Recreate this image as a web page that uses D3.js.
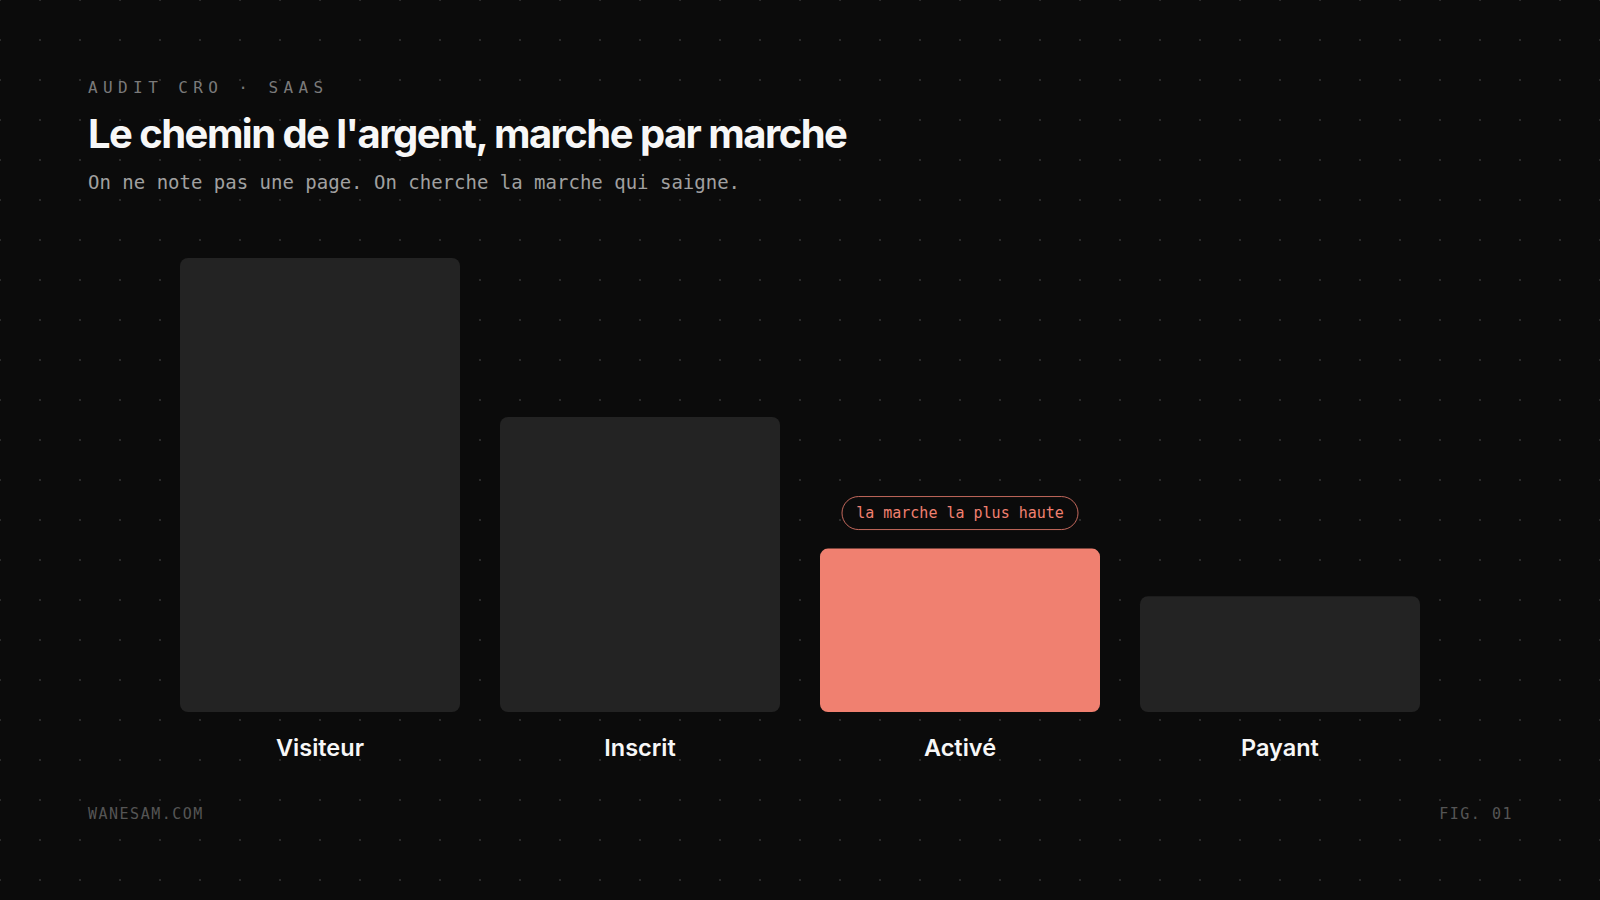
<!DOCTYPE html>
<html>
<head>
<meta charset="utf-8">
<script src="https://d3js.org/d3.v7.min.js"></script>
<style>
  html, body { margin: 0; padding: 0; background: #0b0b0b; }
  svg { display: block; }
</style>
</head>
<body>
<svg id="vis"></svg>

<script>
  var steps = ['Visiteur', 'Inscrit', 'Activé', 'Payant'];
  var values = [100, 65, 36, 25.5];   // hauteur relative de chaque marche
  var highlight = 'Activé';
  var badgeText = 'la marche la plus haute';

  var width = 1600;
  var height = 900;
  var mono = "'DejaVu Sans Mono', 'Liberation Mono', monospace";
  var sans = "Inter, 'Noto Sans', sans-serif";

  var svg = d3.select('#vis')
      .attr('width', width)
      .attr('height', height);

  svg.append('rect')
      .attr('width', width)
      .attr('height', height)
      .attr('fill', '#0b0b0b');

  // dot grid
  var gx = d3.range(0, width + 1, 40);
  var gy = d3.range(0, height + 1, 40);
  var dots = [];
  gy.forEach(function(y) { gx.forEach(function(x) { dots.push({x: x, y: y}); }); });
  svg.append('g').selectAll('circle')
      .data(dots)
      .enter().append('circle')
      .attr('cx', function(d) { return d.x; })
      .attr('cy', function(d) { return d.y; })
      .attr('r', 1.1)
      .attr('fill', '#333');

  // header
  svg.append('text')
      .attr('x', 88).attr('y', 93)
      .attr('fill', '#7a7a7a')
      .style('font-family', mono)
      .style('font-size', '16px')
      .style('letter-spacing', '5.4px')
      .text('AUDIT CRO · SAAS');

  svg.append('text')
      .attr('x', 88).attr('y', 148)
      .attr('fill', '#f7f7f7')
      .style('font-family', sans)
      .style('font-weight', 700)
      .style('font-size', '40px')
      .style('letter-spacing', '-1.55px')
      .text("Le chemin de l'argent, marche par marche");

  svg.append('text')
      .attr('x', 88).attr('y', 189)
      .attr('fill', '#a0a0a0')
      .style('font-family', mono)
      .style('font-size', '19px')
      .text('On ne note pas une page. On cherche la marche qui saigne.');

  // scales
  var x = d3.scaleBand()
      .domain(steps)
      .range([180, 1420])
      .paddingInner(0.125)
      .paddingOuter(0);

  var y = d3.scaleLinear()
      .domain([0, 100])
      .range([712, 258]);

  var data = steps.map(function(s, i) { return {step: s, value: values[i]}; });

  svg.append('g').selectAll('rect')
      .data(data)
      .enter().append('rect')
      .attr('x', function(d) { return x(d.step); })
      .attr('y', function(d) { return y(d.value); })
      .attr('width', x.bandwidth())
      .attr('height', function(d) { return y(0) - y(d.value); })
      .attr('rx', 8)
      .attr('fill', function(d) { return d.step === highlight ? '#f08070' : '#232323'; });

  // step labels
  svg.append('g').selectAll('text')
      .data(data)
      .enter().append('text')
      .attr('x', function(d) { return x(d.step) + x.bandwidth() / 2; })
      .attr('y', 756)
      .attr('text-anchor', 'middle')
      .attr('fill', '#f7f7f7')
      .style('font-family', sans)
      .style('font-weight', 600)
      .style('font-size', '23.5px')
      .text(function(d) { return d.step; });

  // badge above highlighted step
  var hi = data.filter(function(d) { return d.step === highlight; })[0];
  var cx = x(hi.step) + x.bandwidth() / 2;
  var badgeBottom = y(hi.value) - 19;
  var bw = 236, bh = 33;
  svg.append('rect')
      .attr('x', cx - bw / 2)
      .attr('y', badgeBottom - bh)
      .attr('width', bw)
      .attr('height', bh)
      .attr('rx', bh / 2)
      .attr('fill', '#0b0b0b')
      .attr('stroke', '#f08070')
      .attr('stroke-opacity', 0.8)
      .attr('stroke-width', 1);
  svg.append('text')
      .attr('x', cx)
      .attr('y', badgeBottom - 11.5)
      .attr('text-anchor', 'middle')
      .attr('fill', '#f08070')
      .style('font-family', mono)
      .style('font-size', '15px')
      .text(badgeText);

  // footer
  svg.append('text')
      .attr('x', 88).attr('y', 819)
      .attr('fill', '#555')
      .style('font-family', mono)
      .style('font-size', '15px')
      .style('letter-spacing', '1.5px')
      .text('WANESAM.COM');

  svg.append('text')
      .attr('x', 1513).attr('y', 819)
      .attr('text-anchor', 'end')
      .attr('fill', '#555')
      .style('font-family', mono)
      .style('font-size', '15px')
      .style('letter-spacing', '1.5px')
      .text('FIG. 01');
</script>
</body>
</html>
